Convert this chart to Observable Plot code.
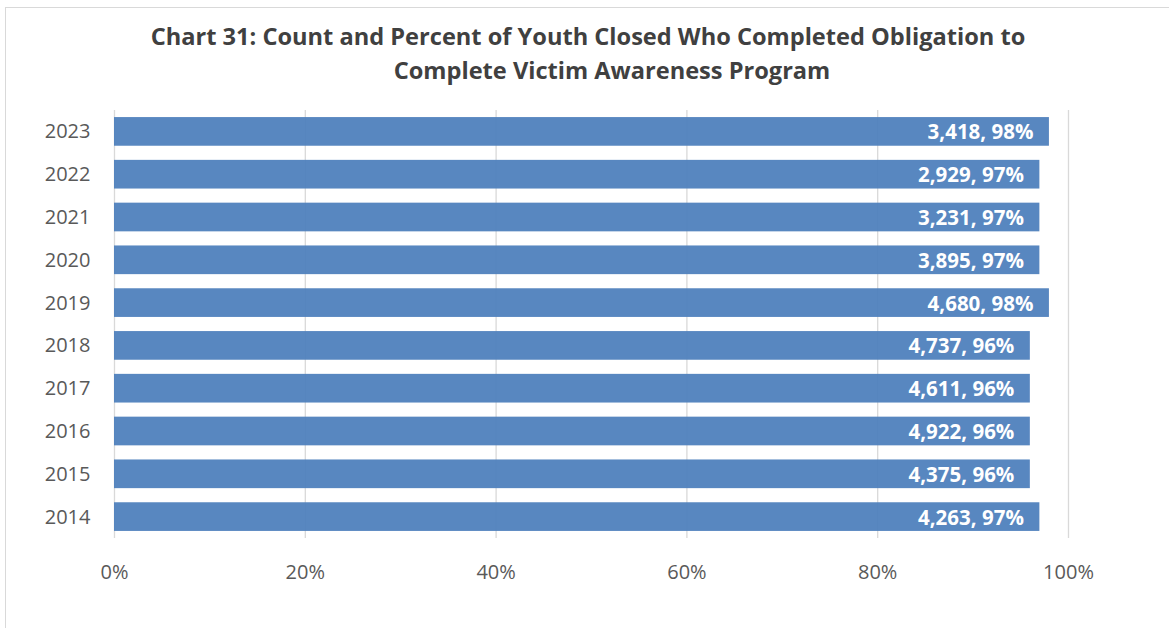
<!DOCTYPE html>
<html>
<head>
<meta charset="utf-8">
<script src="https://cdn.jsdelivr.net/npm/d3@7"></script>
<script src="https://cdn.jsdelivr.net/npm/@observablehq/plot@0.6"></script>
<style>
  html, body { margin: 0; padding: 0; background: #fff; }
  #wrap { position: relative; width: 1169px; height: 628px; overflow: hidden; font-family: "Open Sans", sans-serif; }
  #frame { position: absolute; left: 5px; top: 7px; width: 1180px; height: 640px; border: 1px solid #d9d9d9; box-sizing: border-box; }
  .tl { position: absolute; left: 0; width: 1176px; text-align: center; font-weight: bold; font-size: 23.6px; line-height: 34px; color: #404040; white-space: nowrap; }
  #t1 { top: 19px; }
  #t2 { top: 53px; left: 24px; }
  #chart { position: absolute; left: 0; top: 0; }
</style>
</head>
<body>
<div id="wrap">
  <div id="frame"></div>
  <div id="chart"></div>
  <div class="tl" id="t1">Chart 31: Count and Percent of Youth Closed Who Completed Obligation to</div>
  <div class="tl" id="t2">Complete Victim Awareness Program</div>
</div>
<script>
const years = ["2023", "2022", "2021", "2020", "2019", "2018", "2017", "2016", "2015", "2014"];
const counts = [3418, 2929, 3231, 3895, 4680, 4737, 4611, 4922, 4375, 4263];
const percents = [98, 97, 97, 97, 98, 96, 96, 96, 96, 97];
const xTicks = [0, 20, 40, 60, 80, 100];

const data = years.map((y, i) => ({
  year: y,
  count: counts[i],
  pct: percents[i],
  label: d3.format(",")(counts[i]) + ", " + percents[i] + "%"
}));

const chart = Plot.plot({
  width: 1169,
  height: 628,
  marginLeft: 114,
  marginRight: 101,
  marginTop: 110,
  marginBottom: 90,
  style: { fontFamily: "Open Sans, sans-serif", background: "transparent", overflow: "visible" },
  x: { domain: [0, 100], ticks: xTicks, tickFormat: d => d + "%", label: null },
  y: { domain: years, label: null, paddingInner: 0.33, paddingOuter: 0.165, round: false },
  marks: [
    Plot.ruleX(xTicks, { stroke: "#d9d9d9", strokeWidth: 1.3 }),
    Plot.barX(data, { x: "pct", y: "year", fill: "#4F81BD", fillOpacity: 0.95 }),
    Plot.text(data, { x: "pct", y: "year", text: "label", textAnchor: "end", dx: -16, dy: 1, fill: "white", fontWeight: "bold", fontSize: 20.5 }),
    Plot.axisX({ ticks: xTicks, tickFormat: d => d + "%", tickSize: 0, tickPadding: 26, fontSize: 20, color: "#595959", label: null }),
    Plot.axisY({ tickSize: 0, tickPadding: 24, fontSize: 20, color: "#595959", label: null })
  ]
});
document.getElementById("chart").appendChild(chart);
</script>
</body>
</html>
